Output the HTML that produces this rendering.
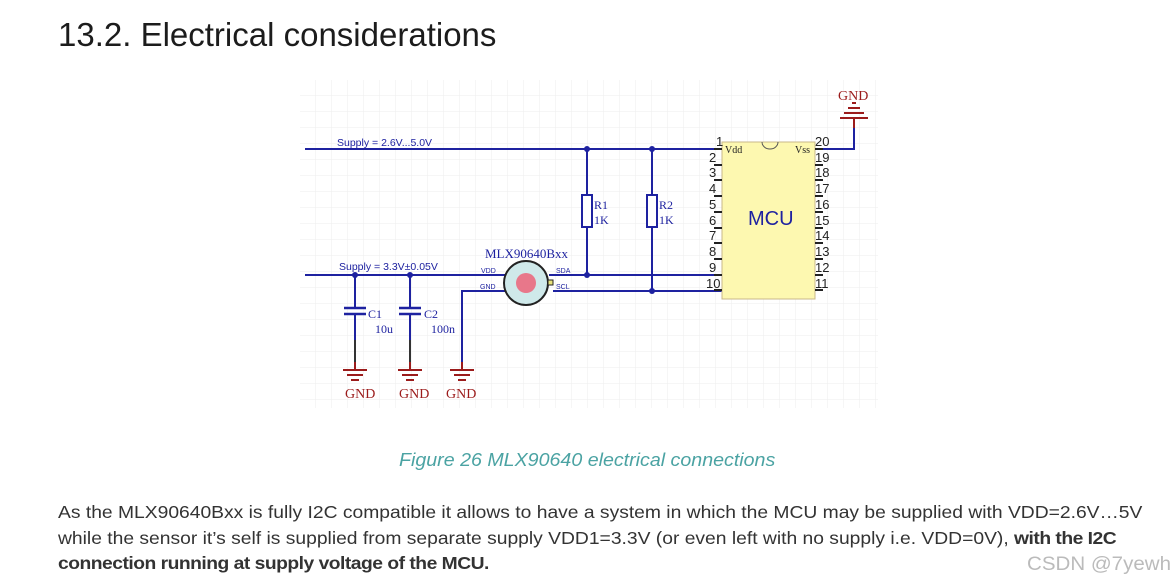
<!DOCTYPE html>
<html><head><meta charset="utf-8"><style>
body{margin:0;width:1175px;height:586px;background:#fff;overflow:hidden;position:relative;font-family:"Liberation Sans",sans-serif}
.t{position:absolute;white-space:nowrap;transform-origin:0 0}
b{letter-spacing:-0.45px}
</style></head><body>
<div class="t" style="left:58px;top:16px;font-size:33px;color:#1c1c1c;">13.2. Electrical considerations</div>
<svg style="position:absolute;left:0;top:0" width="1175" height="586">
<defs><pattern id="g" width="16" height="16" patternUnits="userSpaceOnUse" x="300" y="80"><path d="M16 0V16H0" fill="none" stroke="#eeeeee" stroke-width="1"/></pattern></defs>
<rect x="300" y="80" width="578" height="328" fill="url(#g)"/>
<g stroke="#1e22a0" stroke-width="2" fill="none">
<path d="M305 149H722"/>
<path d="M815 149H854V118"/>
<path d="M305 275H505"/><path d="M549 275H722"/>
<path d="M553 291H722"/>
<path d="M505 291H462V368"/>
<path d="M587 149V195M587 227V275"/>
<path d="M652 149V195M652 227V291"/>
<path d="M355 275V308M355 315V340"/>
<path d="M410 275V308M410 315V340"/>
</g>
<g stroke="#1e22a0" stroke-width="2" fill="#fff"><rect x="582" y="195" width="10" height="32"/><rect x="647" y="195" width="10" height="32"/></g>
<g stroke="#1e22a0" stroke-width="2.5"><path d="M344 308H366M344 314H366M399 308H421M399 314H421"/></g>
<g stroke="#333" stroke-width="2"><path d="M355 340V362M410 340V362"/></g>
<g fill="#1e22a0"><circle cx="587" cy="149" r="3"/><circle cx="652" cy="149" r="3"/><circle cx="587" cy="275" r="3"/><circle cx="652" cy="291" r="3"/><circle cx="355" cy="275" r="3"/><circle cx="410" cy="275" r="3"/></g>
<g stroke="#9b1b1b" stroke-width="2" fill="none">
<path d="M355 362V370M343 370H367M347 375H363M351 380H359"/>
<path d="M410 362V370M398 370H422M402 375H418M406 380H414"/>
<path d="M462 362V370M450 370H474M454 375H470M458 380H466"/>
<path d="M854 128V118M840 118H868M844 113H864M848 108H860M852 103H856"/>
</g>
<circle cx="526" cy="283" r="22" fill="#cfe9ea" stroke="#222" stroke-width="2"/>
<circle cx="526" cy="283" r="10" fill="#e8778a"/>
<rect x="548" y="280" width="5" height="5" fill="#e8e27a" stroke="#222"/>
<rect x="722" y="142" width="93" height="157" fill="#fdf8b0" stroke="#c9b98a" stroke-width="1"/>
<path d="M762 142a8 7 0 0 0 16 0" fill="none" stroke="#555"/>
<g stroke="#222" stroke-width="2">
<path d="M714 149H722M714 165H722M714 180H722M714 196H722M714 212H722M714 228H722M714 243H722M714 259H722M714 275H722M714 290H722"/>
<path d="M815 149H823M815 165H823M815 180H823M815 196H823M815 212H823M815 228H823M815 243H823M815 259H823M815 275H823M815 290H823"/>
</g>
<g font-family="Liberation Sans" font-size="13" fill="#222">
<text x="716" y="146">1</text><text x="709" y="162">2</text><text x="709" y="177">3</text><text x="709" y="193">4</text><text x="709" y="209">5</text><text x="709" y="225">6</text><text x="709" y="240">7</text><text x="709" y="256">8</text><text x="709" y="272">9</text><text x="706" y="288">10</text>
<text x="815" y="146">20</text><text x="815" y="162">19</text><text x="815" y="177">18</text><text x="815" y="193">17</text><text x="815" y="209">16</text><text x="815" y="225">15</text><text x="815" y="240">14</text><text x="815" y="256">13</text><text x="815" y="272">12</text><text x="815" y="288">11</text>
</g>
<g font-family="Liberation Serif" font-size="10" fill="#222"><text x="725" y="153">Vdd</text><text x="795" y="153">Vss</text></g>
<text x="748" y="225" font-family="Liberation Sans" font-size="20" fill="#1e22a0">MCU</text>
<g font-family="Liberation Sans" font-size="10.5" fill="#1e22a0"><text x="337" y="146">Supply = 2.6V...5.0V</text><text x="339" y="270">Supply = 3.3V±0.05V</text></g>
<g font-family="Liberation Sans" font-size="7" fill="#1e22a0"><text x="481" y="273">VDD</text><text x="480" y="289">GND</text><text x="556" y="273">SDA</text><text x="556" y="289">SCL</text></g>
<g font-family="Liberation Serif" font-size="12" fill="#1e22a0">
<text x="485" y="258" font-size="13">MLX90640Bxx</text>
<text x="594" y="209">R1</text><text x="594" y="224">1K</text><text x="659" y="209">R2</text><text x="659" y="224">1K</text>
<text x="368" y="318">C1</text><text x="375" y="333">10u</text><text x="424" y="318">C2</text><text x="431" y="333">100n</text>
</g>
<g font-family="Liberation Serif" font-size="14" fill="#9b1b1b"><text x="345" y="398">GND</text><text x="399" y="398">GND</text><text x="446" y="398">GND</text><text x="838" y="100">GND</text></g>
</svg>
<div class="t" style="left:399px;top:450px;font-size:18px;font-style:italic;color:#4ba3a3;transform:scaleX(1.09)">Figure 26 MLX90640 electrical connections</div>
<div class="t" style="left:58px;top:500px;font-size:17.3px;color:#333;line-height:25.5px;transform:scaleX(1.115)">As the MLX90640Bxx is fully I2C compatible it allows to have a system in which the MCU may be supplied with VDD=2.6V…5V<br>while the sensor it’s self is supplied from separate supply VDD1=3.3V (or even left with no supply i.e. VDD=0V), <b>with the I2C</b><br><b>connection running at supply voltage of the MCU.</b></div>
<div class="t" style="left:1027px;top:554px;font-size:19px;color:#bbb;transform:scaleX(1.08)">CSDN @7yewh</div>
</body></html>
